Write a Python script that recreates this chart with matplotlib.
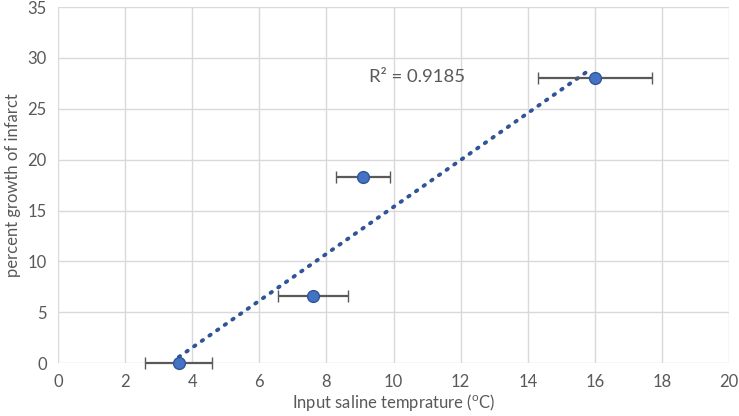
import numpy as np
import matplotlib
matplotlib.use('Agg')
import matplotlib.pyplot as plt

plt.rcParams['font.family'] = ['Lato', 'DejaVu Sans']
plt.rcParams['mathtext.fontset'] = 'custom'
plt.rcParams['mathtext.rm'] = 'Lato'

# data
temp = [3.6, 7.6, 9.1, 16.0]
growth = [0.0, 6.6, 18.3, 28.0]
temp_err = [1.0, 1.05, 0.8, 1.7]
r2_label = 'R² = 0.9185'

text_col = '#595959'
grid_col = '#D9D9D9'

fig = plt.figure(figsize=(7.39, 4.16), dpi=100)
ax = fig.add_axes([0.0785, 0.127, 0.908, 0.856])

# linear trendline
slope, icpt = np.polyfit(temp, growth, 1)
xs = np.array([min(temp), max(temp) - 0.1])
ax.plot(xs, slope * xs + icpt, color='#2F5597', lw=2.8, ls=(0, (0.4, 2.0)),
        dash_capstyle='round', zorder=2)

ax.errorbar(temp, growth, xerr=temp_err, fmt='o', ms=8.5, mfc='#4472C4', mec='#2F5597',
            mew=1, ecolor=text_col, elinewidth=1.6, capsize=4, capthick=1.6, zorder=3,
            clip_on=False)

ax.text(9.27, 28.1, r2_label, fontsize=13.3, color=text_col, va='center', ha='left')

ax.set_xlim(0, 20)
ax.set_ylim(0, 35)
ax.set_xticks(range(0, 21, 2))
ax.set_yticks(range(0, 36, 5))
ax.grid(True, color=grid_col, lw=1)
ax.set_axisbelow(True)
for s in ax.spines.values():
    s.set_visible(False)
ax.tick_params(length=0, labelsize=12, colors=text_col, pad=8)
ax.set_xlabel(r'Input saline temprature ($^{\mathrm{o}}$C)', fontsize=12, color=text_col, labelpad=1)
ax.set_ylabel('percent growth of infarct', fontsize=12, color=text_col, labelpad=5)

fig.savefig('out.png', dpi=100)
